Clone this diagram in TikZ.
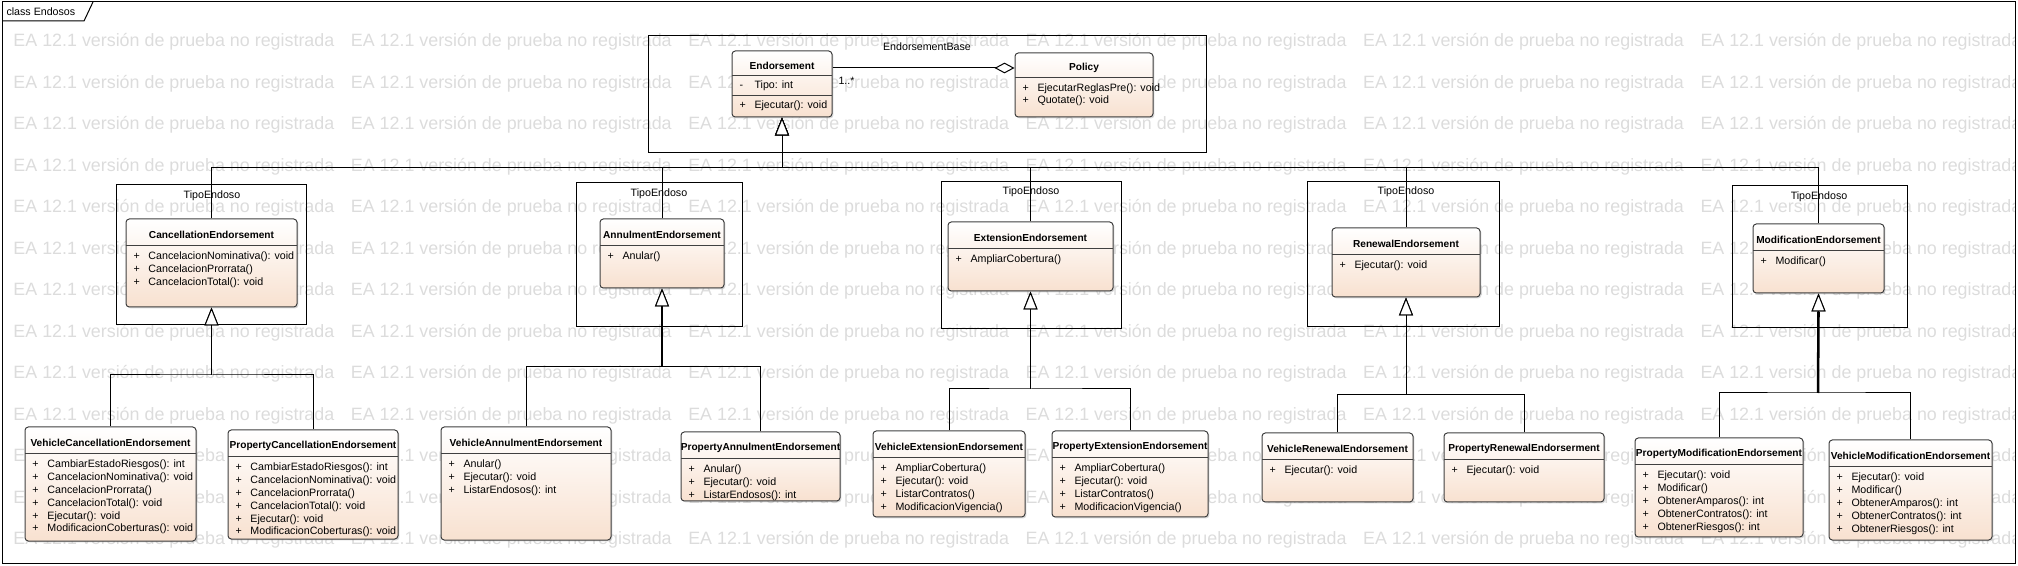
\documentclass[tikz,border=0pt]{standalone}
\usepackage{fontspec}
\setmainfont{Liberation Sans}
\usetikzlibrary{arrows.meta,fit,shadows}
\definecolor{melocoton}{RGB}{248,225,208}
\definecolor{grisagua}{RGB}{220,220,220}
\newcommand{\vis}[1]{\makebox[11.25pt][l]{#1}}

\begin{document}
\begin{tikzpicture}[
    x=0.75pt, y=-0.75pt,
    line width=0.75pt,
    clase/.style={
        draw=black!75,
        rounded corners=2.5pt,
        top color=white,
        bottom color=melocoton,
        inner sep=0pt,
        drop shadow={shadow xshift=1.1pt, shadow yshift=-1.1pt, opacity=0.3}
    },
    paquete/.style={draw, inner sep=0pt},
    titulo/.style={inner sep=0pt, font=\bfseries\fontsize{7.6}{9}\selectfont},
    metodo/.style={anchor=west, inner sep=0pt, text height=6pt, text depth=1.7pt,
        font=\fontsize{8}{9.6}\selectfont},
    etiqueta/.style={inner sep=0pt, font=\fontsize{8}{9.6}\selectfont},
    division/.style={draw=black!75},
    herencia/.style={-{Triangle[length=13.5pt, width=10.5pt, fill=white]}},
    tallo/.style={line width=1.9pt},
    agua/.style={anchor=west, inner sep=0pt, text=grisagua,
        font=\fontsize{13.4}{16}\selectfont}
]
    \useasboundingbox (0,0) rectangle (2018,566);

    % Marca de agua
    \begin{scope}
        \clip (2,2) rectangle (2015,563);
        \foreach \f in {0,...,12}
            \foreach \c in {0,...,5}
                \node[agua] (agua-\f-\c) at (13+337.4*\c, 42+41.5*\f)
                    {EA 12.1 versión de prueba no registrada};
    \end{scope}

    % Marco del diagrama
    \draw (2,2) rectangle (2015,563);
    \draw (2,21) -- (84,21) -- (93,2);
    \node[etiqueta, anchor=west] (marco) at (6,11.5) {class Endosos};

    % Paquete base
    \node[paquete, fit={(648,36) (1206,153)}] (base) {};
    \node[etiqueta] (baseL) at (927,47) {EndorsementBase};

    \node[clase, fit={(732,51) (832,117)}] (endorsement) {};
    \node[titulo] (endorsementT) at (782,65.5) {Endorsement};
    \draw[division] (732,75.5) -- (832,75.5);
    \node[metodo] (tipo) at (739,85.5) {\vis{-}Tipo: int};
    \draw[division] (732,95.5) -- (832,95.5);
    \node[metodo] (ejecutar) at (739,106) {\vis{+}Ejecutar(): void};

    \node[clase, fit={(1015,53) (1153,117)}] (policy) {};
    \node[titulo] (policyT) at (1084,67.5) {Policy};
    \draw[division] (1015,78) -- (1153,78);
    \foreach \m [count=\i from 0] in {EjecutarReglasPre(): void, Quotate(): void}
        \node[metodo] (policy-\i) at (1022,88.5+12.5*\i) {\vis{+}\m};

    % Asociacion
    \coordinate (asocA) at ([yshift=12pt]endorsement.east);
    \draw[-{Diamond[length=15pt, width=8pt, fill=white]}] (asocA) -- (asocA -| policy.west);
    \node[etiqueta, anchor=west] (mult) at (838,81) {1..*};

    % Tipos de endoso
    \node[paquete, fit={(116,185) (306,325)}] (tipoA) {};
    \node[etiqueta] (tipoAL) at (212,196) {TipoEndoso};
    \node[clase, fit={(126,219) (297,307)}] (cancel) {};
    \node[titulo] (cancelT) at (211.5,234.5) {CancellationEndorsement};
    \draw[division] (126,245.5) -- (297,245.5);
    \foreach \m [count=\i from 0] in {CancelacionNominativa(): void, CancelacionProrrata(), CancelacionTotal(): void}
        \node[metodo] (cancel-\i) at (133,257+12.8*\i) {\vis{+}\m};

    \node[paquete, fit={(576,183) (742,327)}] (tipoB) {};
    \node[etiqueta] (tipoBL) at (659,194) {TipoEndoso};
    \node[clase, fit={(600,219) (724,288)}] (annul) {};
    \node[titulo] (annulT) at (662,234.5) {AnnulmentEndorsement};
    \draw[division] (600,245.5) -- (724,245.5);
    \node[metodo] (annul-0) at (607,257) {\vis{+}Anular()};

    \node[paquete, fit={(941,182) (1121,329)}] (tipoC) {};
    \node[etiqueta] (tipoCL) at (1031,192) {TipoEndoso};
    \node[clase, fit={(948,222) (1113,291)}] (ext) {};
    \node[titulo] (extT) at (1030.5,237.5) {ExtensionEndorsement};
    \draw[division] (948,248.5) -- (1113,248.5);
    \node[metodo] (ext-0) at (955,260) {\vis{+}AmpliarCobertura()};

    \node[paquete, fit={(1307,182) (1499,327)}] (tipoD) {};
    \node[etiqueta] (tipoDL) at (1406,192) {TipoEndoso};
    \node[clase, fit={(1332,228) (1480,297)}] (renew) {};
    \node[titulo] (renewT) at (1406,243.5) {RenewalEndorsement};
    \draw[division] (1332,254.5) -- (1480,254.5);
    \node[metodo] (renew-0) at (1339,266) {\vis{+}Ejecutar(): void};

    \node[paquete, fit={(1732,186) (1907,328)}] (tipoE) {};
    \node[etiqueta] (tipoEL) at (1819,197) {TipoEndoso};
    \node[clase, fit={(1753,224) (1884,293)}] (modif) {};
    \node[titulo] (modifT) at (1818.5,239.5) {ModificationEndorsement};
    \draw[division] (1753,250.5) -- (1884,250.5);
    \node[metodo] (modif-0) at (1760,262) {\vis{+}Modificar()};

    % Clases concretas
    \node[clase, fit={(25,427) (196,541)}] (vehCanc) {};
    \node[titulo] (vehCancT) at (110.5,442.5) {VehicleCancellationEndorsement};
    \draw[division] (25,453.5) -- (196,453.5);
    \foreach \m [count=\i from 0] in {CambiarEstadoRiesgos(): int, CancelacionNominativa(): void, CancelacionProrrata(), CancelacionTotal(): void, Ejecutar(): void, ModificacionCoberturas(): void}
        \node[metodo] (vehCanc-\i) at (32,465+12.8*\i) {\vis{+}\m};

    \node[clase, fit={(228,430) (398,539)}] (propCanc) {};
    \node[titulo] (propCancT) at (313,445.5) {PropertyCancellationEndorsement};
    \draw[division] (228,456.5) -- (398,456.5);
    \foreach \m [count=\i from 0] in {CambiarEstadoRiesgos(): int, CancelacionNominativa(): void, CancelacionProrrata(), CancelacionTotal(): void, Ejecutar(): void, ModificacionCoberturas(): void}
        \node[metodo] (propCanc-\i) at (235,468+12.8*\i) {\vis{+}\m};

    \node[clase, fit={(441,427) (611,540)}] (vehAnul) {};
    \node[titulo] (vehAnulT) at (526,442.5) {VehicleAnnulmentEndorsement};
    \draw[division] (441,453.5) -- (611,453.5);
    \foreach \m [count=\i from 0] in {Anular(), Ejecutar(): void, ListarEndosos(): int}
        \node[metodo] (vehAnul-\i) at (448,465+12.8*\i) {\vis{+}\m};

    \node[clase, fit={(681,432) (840,501)}] (propAnul) {};
    \node[titulo] (propAnulT) at (760.5,447.5) {PropertyAnnulmentEndorsement};
    \draw[division] (681,458.5) -- (840,458.5);
    \foreach \m [count=\i from 0] in {Anular(), Ejecutar(): void, ListarEndosos(): int}
        \node[metodo] (propAnul-\i) at (688,470+12.8*\i) {\vis{+}\m};

    \node[clase, fit={(873,431) (1025,517)}] (vehExt) {};
    \node[titulo] (vehExtT) at (949,446.5) {VehicleExtensionEndorsement};
    \draw[division] (873,457.5) -- (1025,457.5);
    \foreach \m [count=\i from 0] in {AmpliarCobertura(), Ejecutar(): void, ListarContratos(), ModificacionVigencia()}
        \node[metodo] (vehExt-\i) at (880,469+12.8*\i) {\vis{+}\m};

    \node[clase, fit={(1052,431) (1208,517)}] (propExt) {};
    \node[titulo] (propExtT) at (1130,446.5) {PropertyExtensionEndorsement};
    \draw[division] (1052,457.5) -- (1208,457.5);
    \foreach \m [count=\i from 0] in {AmpliarCobertura(), Ejecutar(): void, ListarContratos(), ModificacionVigencia()}
        \node[metodo] (propExt-\i) at (1059,469+12.8*\i) {\vis{+}\m};

    \node[clase, fit={(1262,433) (1413,502)}] (vehRen) {};
    \node[titulo] (vehRenT) at (1337.5,448.5) {VehicleRenewalEndorsement};
    \draw[division] (1262,459.5) -- (1413,459.5);
    \node[metodo] (vehRen-0) at (1269,471) {\vis{+}Ejecutar(): void};

    \node[clase, fit={(1444,433) (1604,502)}] (propRen) {};
    \node[titulo] (propRenT) at (1524,448.5) {PropertyRenewalEndorserment};
    \draw[division] (1444,459.5) -- (1604,459.5);
    \node[metodo] (propRen-0) at (1451,471) {\vis{+}Ejecutar(): void};

    \node[clase, fit={(1635,438) (1803,537)}] (propMod) {};
    \node[titulo] (propModT) at (1719,453.5) {PropertyModificationEndorsement};
    \draw[division] (1635,464.5) -- (1803,464.5);
    \foreach \m [count=\i from 0] in {Ejecutar(): void, Modificar(), ObtenerAmparos(): int, ObtenerContratos(): int, ObtenerRiesgos(): int}
        \node[metodo] (propMod-\i) at (1642,476+12.8*\i) {\vis{+}\m};

    \node[clase, fit={(1829,440) (1992,540)}] (vehMod) {};
    \node[titulo] (vehModT) at (1910.5,455.5) {VehicleModificationEndorsement};
    \draw[division] (1829,466.5) -- (1992,466.5);
    \foreach \m [count=\i from 0] in {Ejecutar(): void, Modificar(), ObtenerAmparos(): int, ObtenerContratos(): int, ObtenerRiesgos(): int}
        \node[metodo] (vehMod-\i) at (1836,478+12.8*\i) {\vis{+}\m};

    % Herencia
    \coordinate (b0) at (782,168);
    \coordinate (b1) at (212,375);
    \coordinate (b2) at (662,367);
    \coordinate (b3) at (1031,389);
    \coordinate (b4) at (1406,395);
    \coordinate (b5) at (1818,393);

    \foreach \h in {cancel, annul, ext, renew, modif}
        \draw[herencia] (\h.north) |- (b0) -| (endorsement.south);

    \foreach \h in {vehCanc, propCanc}
        \draw[herencia] (\h.north) |- (b1) -| (cancel.south);
    \foreach \h in {vehAnul, propAnul}
        \draw[herencia] (\h.north) |- (b2) -| (annul.south);
    \foreach \h in {vehExt, propExt}
        \draw[herencia] (\h.north) |- (b3) -| (ext.south);
    \foreach \h in {vehRen, propRen}
        \draw[herencia] (\h.north) |- (b4) -| (renew.south);
    \foreach \h in {propMod, vehMod}
        \draw[herencia] (\h.north) |- (b5) -| (modif.south);

    \draw[tallo] (b2) -- ([yshift=-13.5pt]annul.south);
    \draw[tallo] (b5) -- ([yshift=-13.5pt]modif.south);
\end{tikzpicture}
\end{document}
